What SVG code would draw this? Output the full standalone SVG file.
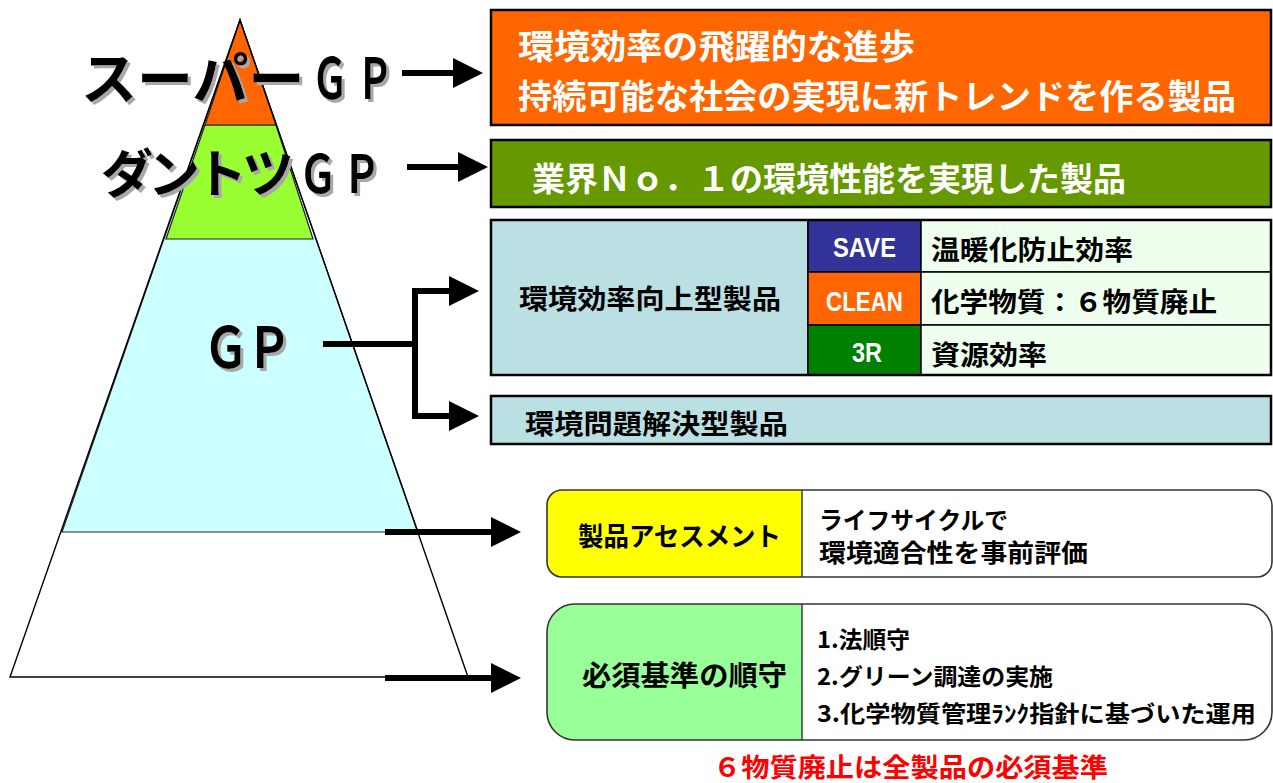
<svg xmlns="http://www.w3.org/2000/svg" width="1273" height="783" viewBox="0 0 1273 783">
<style>
text{font-family:"Noto Sans CJK JP","Noto Sans",sans-serif;font-weight:bold}
.big{font-size:56px;fill:#000}
.big2{font-size:52px;fill:#000}
.wt{fill:#fff}
.bk{fill:#000}
.lat{font-family:"Liberation Sans",Arial,sans-serif;font-weight:bold;fill:#fff;font-size:28px}
.conn{stroke:#000;stroke-width:6;fill:none}
.box{stroke:#000;stroke-width:2.5}
.cell{stroke:#000;stroke-width:1.5}
.rbox{fill:none;stroke:#333;stroke-width:1.6}
</style>
<defs>
<marker id="ah" viewBox="0 0 30 30" markerWidth="30" markerHeight="30" refX="2" refY="15" orient="auto" markerUnits="userSpaceOnUse">
<path d="M0,0 L30,15 L0,30 Z" fill="#000"/>
</marker>
<filter id="ds" x="-5%" y="-20%" width="115%" height="150%">
<feDropShadow dx="3" dy="3" stdDeviation="0" flood-color="#A8A8A8" flood-opacity="1"/>
</filter>
</defs>
<rect width="1273" height="783" fill="#fff"/>

<g id="pyramid">
<polygon points="240,20 468,677 10,677" fill="#fff"/>
<polygon points="240,20 418,532 62,532" fill="#CCFFFF" stroke="#222" stroke-width="1.2"/>
<polygon points="205,125 276,125 313,239 166,239" fill="#99FF33" stroke="#222" stroke-width="1.2"/>
<polygon points="240,20 276,125 205,125" fill="#FF6600" stroke="#222" stroke-width="1.2"/>
<polygon points="240,20 468,677 10,677" fill="none" stroke="#000" stroke-width="1.4"/>
</g>

<g id="label-super" filter="url(#ds)">
<text class="big" x="81" y="99">スーパー</text>
<text class="big" transform="translate(311.8,99) scale(0.65,1)" letter-spacing="13">ＧＰ</text>
</g>
<g id="label-dantotsu" filter="url(#ds)">
<text class="big2" x="101" y="193" letter-spacing="-5">ダントツ</text>
<text class="big2" transform="translate(299,193) scale(0.73,1)" letter-spacing="8">ＧＰ</text>
</g>
<g id="label-gp" filter="url(#ds)">
<text class="big" transform="translate(203.6,368) scale(0.8,1)" letter-spacing="-2">ＧＰ</text>
</g>

<g id="connectors">
<path class="conn" d="M402,73 H455" marker-end="url(#ah)"/>
<path class="conn" d="M407,167 H460" marker-end="url(#ah)"/>
<path class="conn" d="M323,344 H415"/>
<path class="conn" d="M415,288 V419"/>
<path class="conn" d="M412,291 H451" marker-end="url(#ah)"/>
<path class="conn" d="M412,416 H451" marker-end="url(#ah)"/>
<path class="conn" d="M385,532 H493" marker-end="url(#ah)"/>
<path class="conn" d="M385,678 H493" marker-end="url(#ah)"/>
</g>

<g id="box-super">
<rect class="box" x="491" y="10" width="780" height="115" fill="#FF6600"/>
<text class="wt" x="518" y="59" font-size="34" textLength="397" lengthAdjust="spacingAndGlyphs">環境効率の飛躍的な進歩</text>
<text class="wt" x="518" y="109" font-size="34" textLength="718" lengthAdjust="spacingAndGlyphs">持続可能な社会の実現に新トレンドを作る製品</text>
</g>

<g id="box-dantotsu">
<rect class="box" x="491" y="140" width="780" height="67" fill="#669900"/>
<text class="wt" x="532" y="191" font-size="33" textLength="594" lengthAdjust="spacingAndGlyphs">業界Ｎｏ．１の環境性能を実現した製品</text>
</g>

<g id="box-kankyo-koritsu">
<rect class="cell" x="491" y="220" width="317" height="155" fill="#BBE0E3"/>
<text class="bk" x="519" y="309" font-size="27" textLength="262" lengthAdjust="spacingAndGlyphs">環境効率向上型製品</text>
<rect class="cell" x="808" y="220" width="113" height="52" fill="#333399"/>
<rect class="cell" x="808" y="272" width="113" height="53" fill="#FF6600"/>
<rect class="cell" x="808" y="325" width="113" height="50" fill="#008000"/>
<rect class="cell" x="921" y="220" width="350" height="52" fill="#EEFFEE"/>
<rect class="cell" x="921" y="272" width="350" height="53" fill="#EEFFEE"/>
<rect class="cell" x="921" y="325" width="350" height="50" fill="#EEFFEE"/>
<text class="lat" x="833" y="257" textLength="63" lengthAdjust="spacingAndGlyphs">SAVE</text>
<text class="lat" x="826" y="311" textLength="77" lengthAdjust="spacingAndGlyphs">CLEAN</text>
<text class="lat" x="852" y="362" textLength="30" lengthAdjust="spacingAndGlyphs">3R</text>
<text class="bk" x="931" y="260" font-size="27" textLength="202" lengthAdjust="spacingAndGlyphs">温暖化防止効率</text>
<text class="bk" x="931" y="312" font-size="27" textLength="286" lengthAdjust="spacingAndGlyphs">化学物質：６物質廃止</text>
<text class="bk" x="931" y="365" font-size="27" textLength="116" lengthAdjust="spacingAndGlyphs">資源効率</text>
<rect x="491" y="220" width="780" height="155" fill="none" stroke="#000" stroke-width="2.5"/>
</g>

<g id="box-mondai">
<rect class="box" x="491" y="396" width="780" height="48" fill="#BBE0E3"/>
<text class="bk" x="525" y="434" font-size="27" textLength="263" lengthAdjust="spacingAndGlyphs">環境問題解決型製品</text>
</g>

<g id="box-assessment">
<rect x="547" y="490" width="725" height="87" rx="15" fill="#fff"/>
<path d="M802,490 H562 A15,15 0 0 0 547,505 V562 A15,15 0 0 0 562,577 H802 Z" fill="#FFFF00"/>
<line x1="802" y1="490" x2="802" y2="577" stroke="#333" stroke-width="1.4"/>
<rect class="rbox" x="547" y="490" width="725" height="87" rx="15"/>
<text class="bk" x="578" y="546" font-size="26" textLength="203" lengthAdjust="spacingAndGlyphs">製品アセスメント</text>
<text class="bk" x="819" y="529" font-size="24" textLength="189" lengthAdjust="spacingAndGlyphs">ライフサイクルで</text>
<text class="bk" x="819" y="562" font-size="25" textLength="269" lengthAdjust="spacingAndGlyphs">環境適合性を事前評価</text>
</g>

<g id="box-hissu">
<rect x="547" y="604" width="725" height="136" rx="28" fill="#fff"/>
<path d="M802,604 H575 A28,28 0 0 0 547,632 V712 A28,28 0 0 0 575,740 H802 Z" fill="#99FF99"/>
<line x1="802" y1="604" x2="802" y2="740" stroke="#333" stroke-width="1.4"/>
<rect class="rbox" x="547" y="604" width="725" height="136" rx="28"/>
<text class="bk" x="582" y="686" font-size="28" textLength="205" lengthAdjust="spacingAndGlyphs">必須基準の順守</text>
<text class="bk" x="817" y="648" font-size="23" textLength="93" lengthAdjust="spacingAndGlyphs">1.法順守</text>
<text class="bk" x="817" y="685" font-size="23" textLength="236" lengthAdjust="spacingAndGlyphs">2.グリーン調達の実施</text>
<text class="bk" x="817" y="722" font-size="23" textLength="439" lengthAdjust="spacingAndGlyphs">3.化学物質管理ﾗﾝｸ指針に基づいた運用</text>
</g>

<g id="note">
<text x="713" y="777" font-size="26" fill="#FF0000" textLength="395" lengthAdjust="spacingAndGlyphs">６物質廃止は全製品の必須基準</text>
</g>
</svg>
